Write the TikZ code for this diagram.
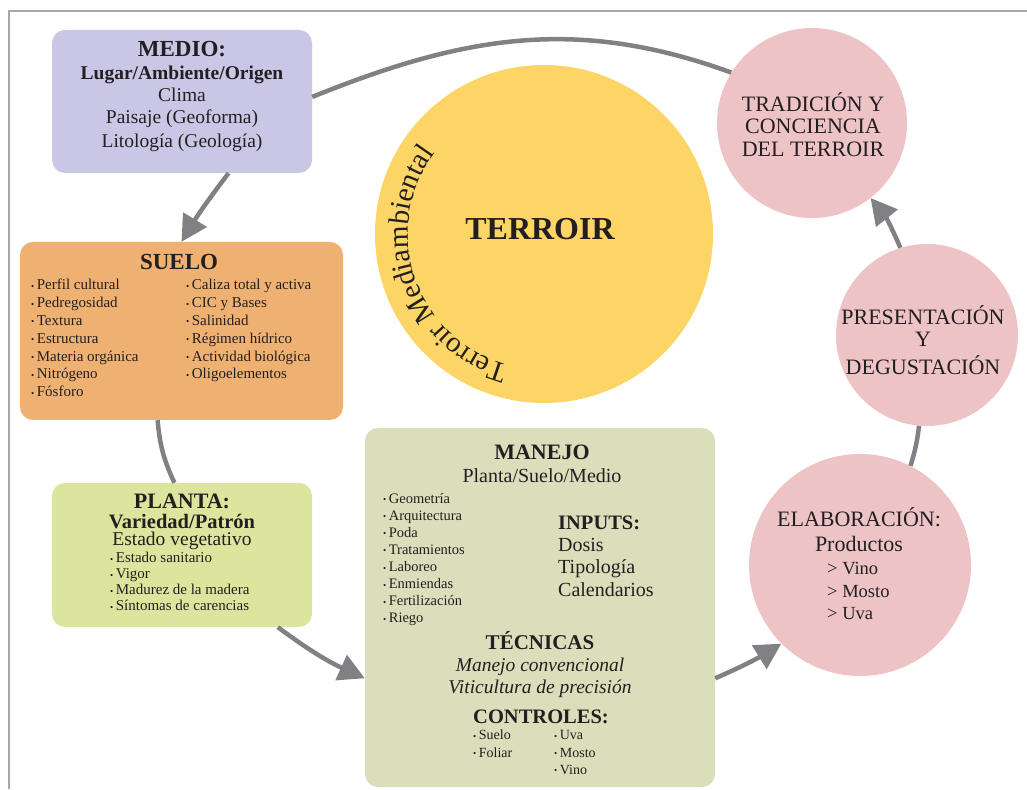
\documentclass[tikz,border=0pt]{standalone}
\usepackage{fontspec}
\setmainfont{Liberation Serif}
\usetikzlibrary{arrows.meta, positioning, calc, decorations.text}

\definecolor{medioclr}{HTML}{C9C7E5}
\definecolor{sueloclr}{HTML}{EFB172}
\definecolor{plantaclr}{HTML}{DCE59D}
\definecolor{manejoclr}{HTML}{DADEBA}
\definecolor{terroirclr}{HTML}{FDD567}
\definecolor{rosaclr}{HTML}{EDC3C6}
\definecolor{flechaclr}{HTML}{808184}
\definecolor{textoclr}{HTML}{231F20}
\definecolor{marcoclr}{HTML}{A8A8A8}

\newcommand{\fs}[1]{\fontsize{#1}{#1}\selectfont}
\newcommand{\bul}{{\fs{9}\raisebox{0.6pt}{•}}\hspace{2.5pt}}

\begin{document}
\begin{tikzpicture}[x=1pt, y=1pt,
    caja/.style={rounded corners=13pt, inner sep=0pt},
    bola/.style={circle, fill=rosaclr, inner sep=0pt},
    txt/.style={anchor=base, inner sep=0pt, text=textoclr},
    item/.style={anchor=base west, inner sep=0pt, text=textoclr},
    flecha/.style={draw=flechaclr, line width=4.5pt, -{Triangle[length=26pt, width=27pt]}},
    enlace/.style={draw=flechaclr, line width=4.5pt}]

    \useasboundingbox (0,0) rectangle (1027,789);
    \draw[marcoclr, line width=1.5pt] (9,0) -- (9,778) -- (1027,778);

    % bloques
    \node[caja, fill=medioclr, minimum width=260pt, minimum height=143pt] (medio) at (182,687.5) {};
    \node[caja, fill=sueloclr, minimum width=323pt, minimum height=178pt] (suelo) at (181.5,458) {};
    \node[caja, fill=plantaclr, minimum width=260pt, minimum height=144pt] (planta) at (182,234) {};
    \node[caja, fill=manejoclr, minimum width=350pt, minimum height=359pt] (manejo) at (540,181.5) {};

    % circulos
    \node[circle, fill=terroirclr, minimum size=338pt, inner sep=0pt] (terroir) at (544,555) {};
    \node[bola, minimum size=190pt] (tradicion) at (812,666) {};
    \node[bola, minimum size=182pt] (presentacion) at (927,454) {};
    \node[bola, minimum size=222pt] (elaboracion) at (860,224) {};

    % MEDIO
    \node[txt, font=\bfseries\fs{23}] (medio-tit) at (182,732) {MEDIO:};
    \node[txt, font=\bfseries\fs{19.5}] (medio-sub) at (182,709) {Lugar/Ambiente/Origen};
    \foreach \lin/\yy [count=\i] in {Clima/687, Paisaje (Geoforma)/665, Litología (Geología)/641}
        \node[txt, font=\fs{19.5}] (medio-\i) at (182,\yy) {\lin};

    % SUELO
    \node[txt, font=\bfseries\fs{23}] (suelo-tit) at (179,519) {SUELO};
    \foreach \lin [count=\i] in {Perfil cultural, Pedregosidad, Textura, Estructura, Materia orgánica, Nitrógeno, Fósforo}
        \node[item, font=\fs{15}] (suelo-a\i) at (31,{516.8-17.8*\i}) {\bul\lin};
    \foreach \lin [count=\i] in {Caliza total y activa, CIC y Bases, Salinidad, Régimen hídrico, Actividad biológica, Oligoelementos}
        \node[item, font=\fs{15}] (suelo-b\i) at (186,{516.8-17.8*\i}) {\bul\lin};

    % PLANTA
    \node[txt, font=\bfseries\fs{22}] (planta-tit) at (182,280.7) {PLANTA:};
    \node[txt, font=\bfseries\fs{20.5}] (planta-sub) at (182,260.7) {Variedad/Patrón};
    \node[txt, font=\fs{19.5}] (planta-est) at (182,243) {Estado vegetativo};
    \foreach \lin [count=\i] in {Estado sanitario, Vigor, Madurez de la madera, Síntomas de carencias}
        \node[item, font=\fs{15}] (planta-\i) at (110,{242.4-16.1*\i}) {\bul\lin};

    % MANEJO
    \node[txt, font=\bfseries\fs{22}] (manejo-tit) at (542,329.7) {MANEJO};
    \node[txt, font=\fs{20}] (manejo-sub) at (542,306.3) {Planta/Suelo/Medio};
    \foreach \lin [count=\i] in {Geometría, Arquitectura, Poda, Tratamientos, Laboreo, Enmiendas, Fertilización, Riego}
        \node[item, font=\fs{14.5}] (manejo-\i) at (383,{302.8-17.1*\i}) {\bul\lin};
    \node[item, font=\bfseries\fs{20.5}] (inputs) at (558,259.7) {INPUTS:};
    \foreach \lin/\yy [count=\i] in {Dosis/237.3, Tipología/215, Calendarios/192.3}
        \node[item, font=\fs{20}] (inputs-\i) at (558,\yy) {\lin};
    \node[txt, font=\bfseries\fs{21}] (tecnicas) at (540,139.7) {TÉCNICAS};
    \node[txt, font=\itshape\fs{19.5}] (tecnicas-1) at (540,117.3) {Manejo convencional};
    \node[txt, font=\itshape\fs{19.5}] (tecnicas-2) at (540,95.7) {Viticultura de precisión};
    \node[txt, font=\bfseries\fs{20.5}] (controles) at (541,65.7) {CONTROLES:};
    \foreach \lin/\yy [count=\i] in {Suelo/49, Foliar/31.7}
        \node[item, font=\fs{14}] (controles-a\i) at (473,\yy) {\bul\lin};
    \foreach \lin/\yy [count=\i] in {Uva/49, Mosto/31.7, Vino/14.7}
        \node[item, font=\fs{14}] (controles-b\i) at (554,\yy) {\bul\lin};

    % TERROIR
    \node[txt, font=\bfseries\fs{32}] (terroir-tit) at (540,549) {TERROIR};
    \path[decorate, decoration={text along path, text align=left, text color=textoclr,
        text={|\fs{29}|Terroir Mediambiental}}]
        ($(terroir.center)+(255:136)$) arc[start angle=255, end angle=100, radius=136];

    % circulos rosas
    \foreach \lin/\yy [count=\i] in {TRADICIÓN Y/677.3, CONCIENCIA/655, DEL TERROIR/632.3}
        \node[txt, font=\fs{22}] (tradicion-\i) at (813,\yy) {\lin};
    \foreach \lin/\yy [count=\i] in {PRESENTACIÓN/464, Y/442.3, DEGUSTACIÓN/414}
        \node[txt, font=\fs{22}] (presentacion-\i) at (923,\yy) {\lin};
    \node[txt, font=\fs{22}] (elaboracion-tit) at (859,262.3) {ELABORACIÓN:};
    \node[txt, font=\fs{22}] (elaboracion-sub) at (859,237.3) {Productos};
    \foreach \lin/\yy [count=\i] in {Vino/214, Mosto/191.7, Uva/169}
        \node[item, font=\fs{18.5}] (elaboracion-\i) at (827,\yy) {> \lin};

    % flechas
    \draw[flecha] (medio.-57) to[bend right=3] (suelo.north);
    \draw[enlace] (suelo.-105) to[bend right=10] (planta.96);
    \draw[flecha] (planta.-37) to[bend right=6] (manejo.202);
    \draw[flecha] (manejo.-22) to[bend right=4] (elaboracion.225);
    \draw[enlace] (elaboracion.63) to[bend right=5] (presentacion.265);
    \draw[flecha] (presentacion.107) to[bend right=8] (tradicion.-52);
    \draw[enlace] (tradicion.148) to[out=160, in=22] (medio.2);
\end{tikzpicture}
\end{document}
